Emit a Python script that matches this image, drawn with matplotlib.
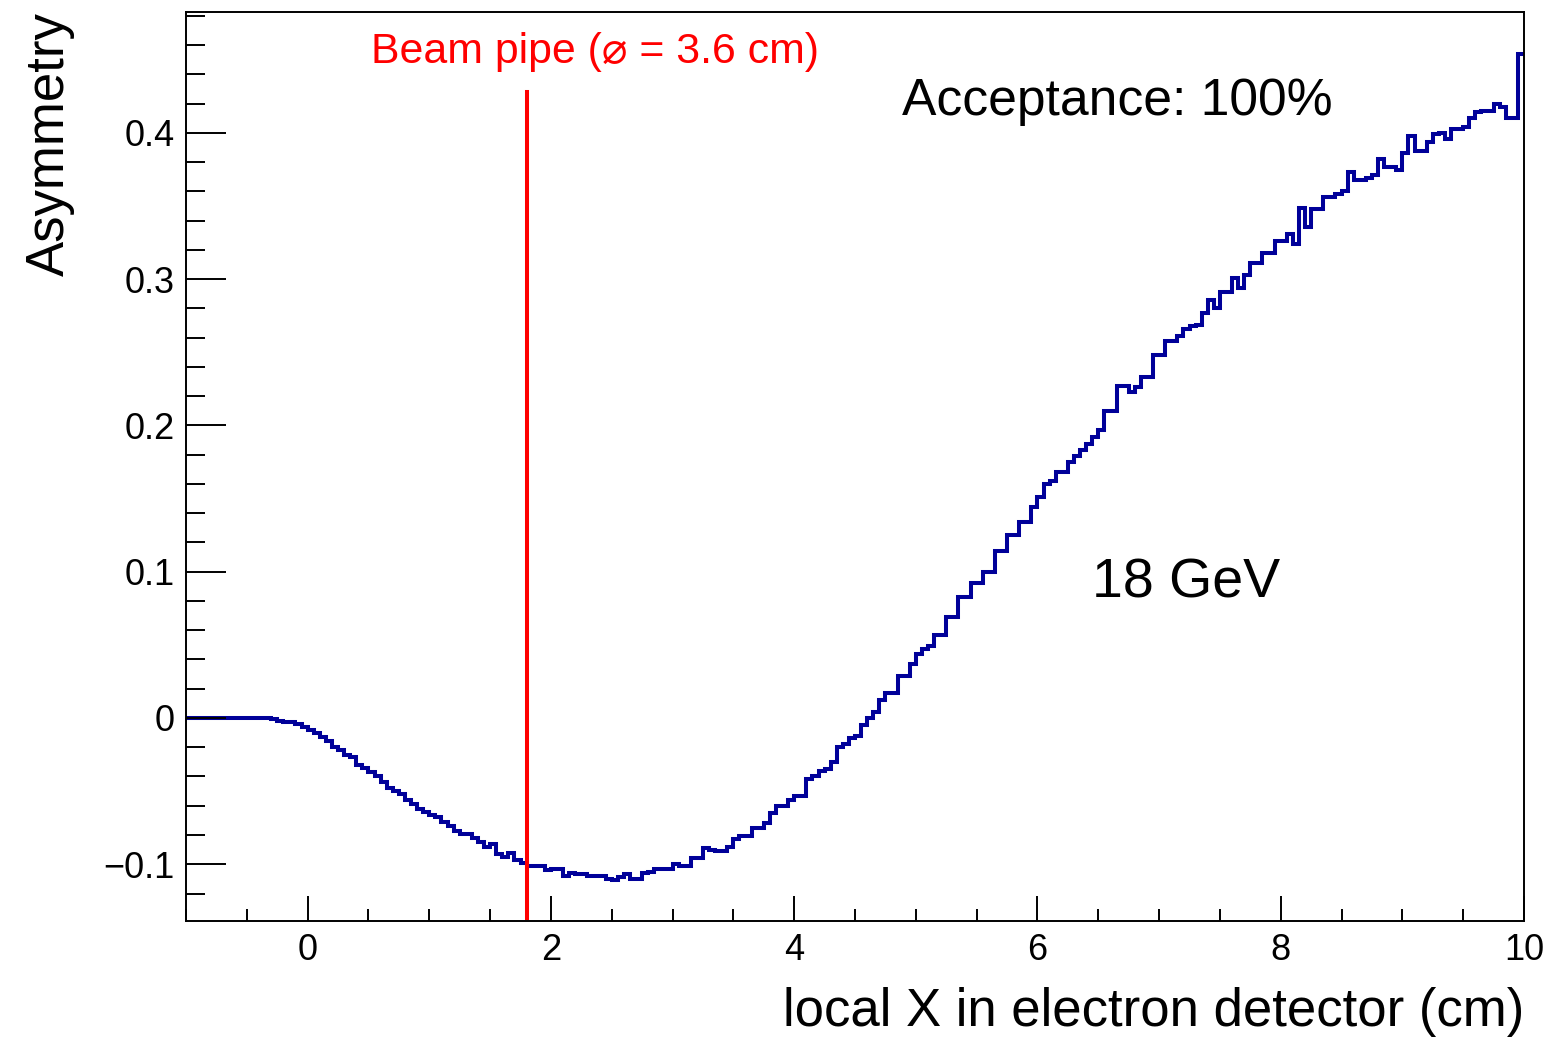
import numpy as np
import matplotlib
matplotlib.use("Agg")
import matplotlib.pyplot as plt
from matplotlib.ticker import MultipleLocator

plt.rcParams['font.family'] = ['Liberation Sans', 'DejaVu Sans']

# histogram: 220 bins of 0.05 cm from -1 to 10
bin_lo, bin_hi, bin_w = -1.0, 10.0, 0.05
asym = [
    # -1.0 .. -0.05
    0.0, 0.0, 0.0, 0.0, 0.0, 0.0, 0.0, 0.0, 0.0, 0.0,
    0.0, 0.0, 0.0, 0.0, -0.001, -0.002, -0.003, -0.003, -0.004, -0.006,
    # 0.0 .. 0.95
    -0.008, -0.010, -0.013, -0.016, -0.020, -0.022, -0.025, -0.027, -0.032, -0.034,
    -0.037, -0.040, -0.044, -0.048, -0.050, -0.052, -0.056, -0.059, -0.062, -0.064,
    # 1.0 .. 1.95
    -0.066, -0.068, -0.071, -0.074, -0.077, -0.079, -0.079, -0.082, -0.085, -0.088,
    -0.086, -0.093, -0.095, -0.092, -0.097, -0.099, -0.101, -0.101, -0.101, -0.104,
    # 2.0 .. 2.95
    -0.103, -0.103, -0.108, -0.106, -0.107, -0.107, -0.108, -0.108, -0.108, -0.110,
    -0.111, -0.109, -0.107, -0.110, -0.110, -0.106, -0.105, -0.103, -0.103, -0.103,
    # 3.0 .. 3.95
    -0.100, -0.101, -0.101, -0.096, -0.096, -0.089, -0.090, -0.091, -0.091, -0.088,
    -0.083, -0.081, -0.081, -0.075, -0.075, -0.072, -0.065, -0.060, -0.060, -0.056,
    # 4.0 .. 4.95
    -0.053, -0.053, -0.042, -0.040, -0.036, -0.035, -0.030, -0.020, -0.018, -0.014,
    -0.012, -0.005, 0.000, 0.004, 0.012, 0.017, 0.017, 0.029, 0.029, 0.037,
    # 5.0 .. 5.95
    0.044, 0.047, 0.049, 0.057, 0.057, 0.069, 0.069, 0.083, 0.083, 0.092,
    0.092, 0.100, 0.100, 0.114, 0.114, 0.125, 0.125, 0.134, 0.134, 0.144,
    # 6.0 .. 6.95
    0.151, 0.160, 0.162, 0.168, 0.168, 0.175, 0.179, 0.183, 0.187, 0.192,
    0.197, 0.210, 0.210, 0.227, 0.227, 0.223, 0.226, 0.233, 0.233, 0.248,
    # 7.0 .. 7.95
    0.248, 0.258, 0.258, 0.261, 0.266, 0.268, 0.269, 0.277, 0.286, 0.280,
    0.291, 0.291, 0.301, 0.294, 0.303, 0.311, 0.311, 0.318, 0.318, 0.326,
    # 8.0 .. 8.95
    0.326, 0.331, 0.324, 0.349, 0.336, 0.348, 0.348, 0.356, 0.356, 0.358,
    0.360, 0.373, 0.368, 0.368, 0.369, 0.371, 0.382, 0.377, 0.377, 0.375,
    # 9.0 .. 9.95
    0.386, 0.398, 0.388, 0.388, 0.394, 0.399, 0.400, 0.396, 0.403, 0.403,
    0.404, 0.410, 0.414, 0.415, 0.415, 0.420, 0.418, 0.410, 0.410, 0.454,
]
edges = np.linspace(bin_lo, bin_hi, len(asym) + 1)

pipe_x = 1.8          # beam pipe radius, cm
pipe_y = (-0.137, 0.428)

x_ticks = [0, 2, 4, 6, 8, 10]
x_ticklabels = ["0", "2", "4", "6", "8", "10"]
y_ticks = [-0.1, 0.0, 0.1, 0.2, 0.3, 0.4]
y_ticklabels = ["\u22120.1", "0", "0.1", "0.2", "0.3", "0.4"]

fig = plt.figure(figsize=(15.49, 10.37), dpi=100)
ax = fig.add_axes([186 / 1549, 1 - 921 / 1037, (1524 - 186) / 1549, (921 - 12) / 1037])

ax.stairs(asym, edges, baseline=None, color="#000099", linewidth=2.9)
ax.plot([pipe_x, pipe_x], pipe_y, color="#ff0000", linewidth=2.9)

ax.set_xlim(bin_lo, bin_hi)
ax.set_ylim(-0.1388, 0.4827)

ax.set_xticks(x_ticks)
ax.set_xticklabels(x_ticklabels)
ax.set_yticks(y_ticks)
ax.set_yticklabels(y_ticklabels)
ax.xaxis.set_minor_locator(MultipleLocator(0.5))
ax.yaxis.set_minor_locator(MultipleLocator(0.02))

ax.tick_params(which="both", direction="in", top=False, right=False, width=1.4, labelsize=26)
ax.tick_params(axis="x", which="major", length=18, pad=9)
ax.tick_params(axis="x", which="minor", length=9)
ax.tick_params(axis="y", which="major", length=29, pad=8)
ax.tick_params(axis="y", which="minor", length=14)
for sp in ax.spines.values():
    sp.set_linewidth(1.4)

ax.set_xlabel("local X in electron detector (cm)", fontsize=38, loc="right")
ax.xaxis.set_label_coords(1.0, -0.073)
ax.set_ylabel("Asymmetry", fontsize=38, loc="top")
ax.yaxis.set_label_coords(-0.083, 1.0)

ax.text(0.518, 0.448, "Beam pipe (\u2300 = 3.6 cm)", color="#ff0000", fontsize=30.8, va="baseline")
ax.text(4.885, 0.412, "Acceptance: 100%", color="black", fontsize=37.2, va="baseline")
ax.text(6.447, 0.0827, "18 GeV", color="black", fontsize=40, va="baseline")

fig.savefig("out.png", dpi=100)
